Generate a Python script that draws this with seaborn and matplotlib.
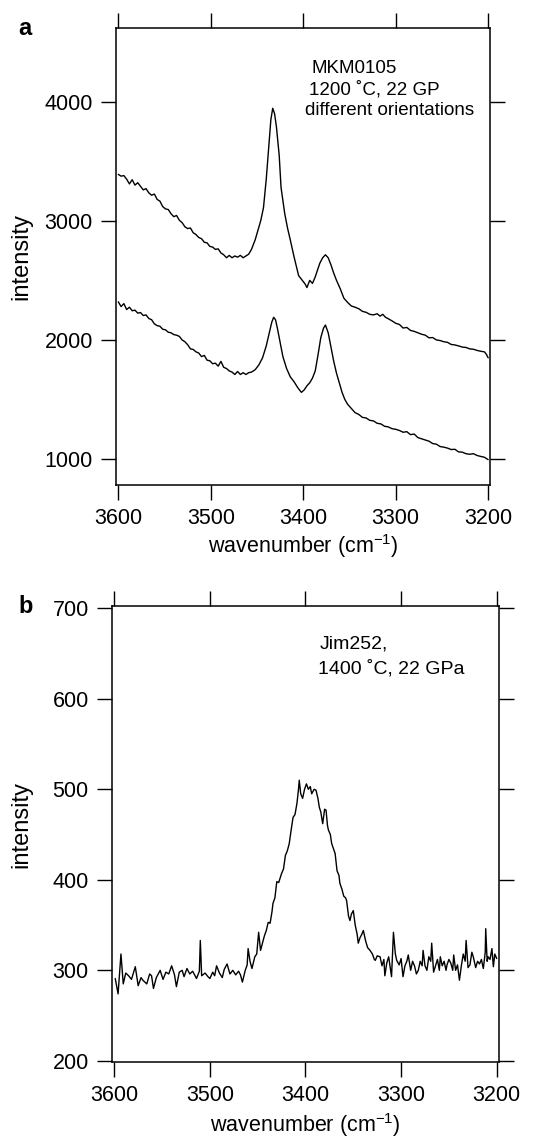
import pandas as pd
import matplotlib
matplotlib.use("Agg")
import matplotlib.pyplot as plt
import seaborn as sns

# panel a - upper spectrum (MKM0105)
wnAUpper = [3600, 3597, 3594, 3591, 3588, 3585, 3582, 3579, 3576, 3573, 3570, 3567, 3564, 3561, 3558,
            3555, 3552, 3549, 3546, 3543, 3540, 3537, 3534, 3531, 3528, 3525, 3522, 3519, 3516, 3513,
            3510, 3507, 3504, 3501, 3498, 3495, 3492, 3489, 3486, 3483, 3480, 3477, 3474, 3471, 3468,
            3465, 3462, 3459, 3456, 3452, 3449, 3446, 3443, 3440, 3437, 3435, 3433, 3431, 3429, 3426,
            3424, 3420, 3417, 3414, 3410, 3405, 3401, 3398, 3396, 3393, 3390, 3387, 3384, 3382, 3379,
            3376, 3373, 3370, 3367, 3364, 3360, 3356, 3352, 3348, 3344, 3340, 3336, 3332, 3328, 3324,
            3320, 3317, 3314, 3311, 3308, 3304, 3300, 3296, 3292, 3288, 3284, 3280, 3276, 3272, 3268,
            3264, 3260, 3256, 3252, 3248, 3244, 3240, 3236, 3232, 3228, 3224, 3220, 3216, 3212, 3208,
            3204, 3202, 3200]
intAUpper = [3390, 3375, 3380, 3350, 3310, 3345, 3300, 3320, 3290, 3260, 3270, 3235, 3215, 3225, 3180,
             3165, 3120, 3100, 3095, 3060, 3035, 3045, 3005, 2985, 2950, 2935, 2940, 2900, 2885, 2860,
             2850, 2820, 2815, 2785, 2780, 2760, 2765, 2730, 2715, 2690, 2710, 2690, 2705, 2695, 2710,
             2690, 2705, 2720, 2760, 2840, 2920, 3000, 3110, 3350, 3650, 3850, 3945, 3900, 3790, 3550,
             3280, 3060, 2940, 2840, 2700, 2540, 2500, 2470, 2440, 2500, 2475, 2530, 2600, 2645, 2690,
             2715, 2690, 2630, 2560, 2500, 2430, 2350, 2315, 2285, 2275, 2262, 2240, 2232, 2215, 2210,
             2220, 2200, 2215, 2190, 2178, 2160, 2140, 2130, 2100, 2105, 2080, 2072, 2060, 2048, 2040,
             2018, 2020, 2000, 1995, 1985, 1980, 1962, 1958, 1950, 1940, 1937, 1925, 1922, 1912, 1905,
             1900, 1880, 1850]

# panel a - lower spectrum
wnALower = [3600, 3597, 3594, 3591, 3588, 3585, 3582, 3579, 3576, 3573, 3570, 3567, 3564, 3561, 3558,
            3555, 3552, 3549, 3546, 3543, 3540, 3537, 3534, 3531, 3528, 3525, 3522, 3519, 3516, 3513,
            3510, 3507, 3504, 3501, 3498, 3495, 3492, 3489, 3486, 3483, 3480, 3477, 3474, 3471, 3468,
            3465, 3462, 3459, 3456, 3452, 3448, 3444, 3440, 3437, 3434, 3432, 3430, 3428, 3425, 3422,
            3418, 3414, 3410, 3406, 3402, 3399, 3396, 3393, 3390, 3387, 3384, 3381, 3378, 3376, 3373,
            3370, 3367, 3364, 3361, 3358, 3355, 3352, 3348, 3344, 3340, 3336, 3332, 3328, 3324, 3320,
            3316, 3312, 3308, 3304, 3300, 3296, 3292, 3288, 3284, 3280, 3276, 3272, 3268, 3264, 3260,
            3256, 3252, 3248, 3244, 3240, 3236, 3232, 3228, 3224, 3220, 3216, 3212, 3208, 3204, 3200]
intALower = [2320, 2280, 2305, 2255, 2275, 2245, 2250, 2225, 2230, 2205, 2210, 2180, 2170, 2135, 2120,
             2115, 2090, 2085, 2065, 2060, 2045, 2040, 2030, 2000, 1985, 1960, 1925, 1920, 1900, 1890,
             1860, 1870, 1830, 1825, 1800, 1805, 1780, 1820, 1770, 1760, 1740, 1730, 1710, 1735, 1710,
             1725, 1710, 1725, 1730, 1750, 1790, 1850, 1950, 2050, 2150, 2190, 2170, 2100, 1980, 1860,
             1760, 1690, 1650, 1600, 1560, 1580, 1615, 1640, 1680, 1740, 1875, 2020, 2100, 2125, 2060,
             1940, 1820, 1720, 1640, 1560, 1500, 1460, 1425, 1390, 1375, 1350, 1345, 1325, 1320, 1300,
             1295, 1275, 1270, 1255, 1250, 1240, 1225, 1230, 1205, 1210, 1180, 1170, 1160, 1150, 1130,
             1125, 1105, 1100, 1092, 1080, 1082, 1060, 1058, 1045, 1040, 1045, 1030, 1022, 1015, 995]

# panel b - Jim252
wnB = [3599, 3596, 3593, 3590.6, 3588, 3585, 3582, 3578, 3575, 3572, 3570, 3566, 3563, 3561, 3559,
       3556, 3552, 3549, 3546, 3543, 3540, 3537, 3535, 3532, 3529, 3527, 3524, 3521, 3518, 3514,
       3511, 3510, 3508.6, 3505, 3502, 3500, 3497, 3495, 3493, 3490, 3487, 3485, 3482, 3479, 3476,
       3473, 3470, 3468, 3466, 3463, 3461, 3460, 3458, 3456, 3453, 3451, 3449, 3447, 3445, 3443,
       3441, 3439, 3437, 3435, 3434, 3432, 3430, 3428, 3425, 3423, 3421, 3419, 3417, 3415, 3413,
       3411, 3409, 3407.5, 3406.5, 3405, 3403, 3401, 3399, 3397, 3395, 3393.5, 3391, 3389, 3387, 3385.5,
       3384, 3382, 3380, 3378.5, 3377, 3376, 3374, 3372.6, 3371, 3369, 3367, 3365, 3364, 3362, 3360,
       3358, 3357, 3355, 3353.5, 3352, 3350, 3348, 3346, 3344.8, 3343, 3341, 3339.5, 3337, 3335, 3332.5,
       3330, 3328, 3327, 3325, 3322, 3320, 3318, 3317, 3315, 3313, 3311, 3310, 3308, 3306, 3304.6,
       3302, 3300, 3298, 3296, 3294, 3292.5, 3290, 3288, 3286, 3284, 3282, 3280, 3278, 3277, 3275,
       3273, 3271, 3269, 3268, 3266, 3264, 3262, 3260, 3259, 3257, 3255, 3253, 3252, 3250, 3248,
       3246, 3245, 3243, 3241, 3239, 3237, 3235, 3233, 3232, 3230, 3228, 3226, 3224.5, 3222, 3220,
       3218, 3216, 3214, 3212, 3211.5, 3210, 3209, 3207, 3205, 3203.5, 3202, 3200]
intB = [291, 274, 318, 285, 297, 294, 290, 304, 283, 292, 289, 285, 296, 294, 280,
        292, 300, 290, 298, 296, 305, 295, 282, 298, 300, 293, 302, 296, 299, 291,
        299, 333, 294, 297, 293, 291, 298, 294, 305, 297, 292, 301, 307, 296, 300,
        295, 299, 295, 287, 300, 306, 324, 310, 302, 315, 318, 342, 322, 330, 338,
        344, 353, 352, 365, 374, 380, 398, 397, 407, 412, 427, 432, 440, 455, 469,
        472, 484, 498, 510, 495, 490, 500, 506, 500, 503, 495, 500, 499, 490, 480,
        475, 462, 478, 477, 460, 455, 450, 440, 435, 429, 410, 405, 396, 390, 382,
        380, 377, 360, 355, 362, 366, 350, 340, 330, 336, 340, 344, 332, 325, 322,
        318, 312, 311, 316, 315, 305, 312, 294, 308, 315, 300, 293, 342, 318, 311,
        306, 313, 293, 305, 310, 317, 300, 310, 305, 296, 300, 310, 305, 322, 305,
        300, 315, 310, 330, 298, 305, 312, 300, 315, 305, 310, 300, 306, 312, 308,
        300, 317, 300, 306, 289, 305, 318, 310, 333, 303, 306, 320, 315, 303, 310,
        307, 312, 302, 320, 346, 310, 315, 312, 324, 304, 318, 313]

xTicks = [3600, 3500, 3400, 3300, 3200]
yTicksA = [1000, 2000, 3000, 4000]
yTicksB = [200, 300, 400, 500, 600, 700]

sns.set_style("ticks")
plt.rcParams["font.family"] = ["Liberation Sans", "DejaVu Sans"]
plt.rcParams["text.color"] = "k"
plt.rcParams["axes.labelcolor"] = "k"
plt.rcParams["mathtext.fontset"] = "custom"
plt.rcParams["mathtext.rm"] = "Liberation Sans"
plt.rcParams["mathtext.it"] = "Liberation Sans:italic"
plt.rcParams["mathtext.bf"] = "Liberation Sans:bold"

fig = plt.figure(figsize=(5.39, 11.38), dpi=100)
axA = fig.add_axes([0.2147, 0.5738, 0.6944, 0.4016])
axB = fig.add_axes([0.2072, 0.0670, 0.7186, 0.4005])

dfUp = pd.DataFrame({"wn": wnAUpper, "intensity": intAUpper})
dfLo = pd.DataFrame({"wn": wnALower, "intensity": intALower})
dfB = pd.DataFrame({"wn": wnB, "intensity": intB})

sns.lineplot(data=dfUp, x="wn", y="intensity", ax=axA, color="k", lw=1.0, estimator=None, sort=False)
sns.lineplot(data=dfLo, x="wn", y="intensity", ax=axA, color="k", lw=1.0, estimator=None, sort=False)
sns.lineplot(data=dfB, x="wn", y="intensity", ax=axB, color="k", lw=1.0, estimator=None, sort=False)

axA.set_xlim(3602.8, 3198)
axA.set_ylim(782, 4619)
axA.set_yticks(yTicksA)
axB.set_xlim(3602.7, 3197.6)
axB.set_ylim(199, 702.5)
axB.set_yticks(yTicksB)

for ax in [axA, axB]:
    ax.set_xticks(xTicks)
    ax.tick_params(direction="out", length=10.5, width=1.0, top=True, right=True,
                   labelsize=15.5, pad=6, colors="k")
    for s in ax.spines.values():
        s.set_linewidth(1.1)
        s.set_color("k")
    ax.set_xlabel("wavenumber (cm$^{-1}$)", fontsize=15.5)
    ax.set_ylabel("intensity", fontsize=17)

axA.xaxis.set_label_coords(0.5, -0.102)
axB.xaxis.set_label_coords(0.5, -0.108)
axA.yaxis.set_label_coords(-0.2236, 0.5)
axB.yaxis.set_label_coords(-0.2058, 0.52)

axA.text(0.5236, 0.9022, "MKM0105", transform=axA.transAxes, fontsize=13.5, va="baseline")
axA.text(0.5164, 0.8549, "1200 ˚C, 22 GP", transform=axA.transAxes, fontsize=13.5, va="baseline")
axA.text(0.5057, 0.8096, "different orientations", transform=axA.transAxes, fontsize=13.5, va="baseline")
axB.text(0.536, 0.9072, "Jim252,", transform=axB.transAxes, fontsize=14, va="baseline")
axB.text(0.5334, 0.8523, "1400 ˚C, 22 GPa", transform=axB.transAxes, fontsize=14, va="baseline")

fig.text(18 / 539, 1 - 35 / 1138, "a", fontsize=17, fontweight="bold", va="baseline")
fig.text(18 / 539, 1 - 613 / 1138, "b", fontsize=17, fontweight="bold", va="baseline")

fig.savefig("out.png", dpi=100)
